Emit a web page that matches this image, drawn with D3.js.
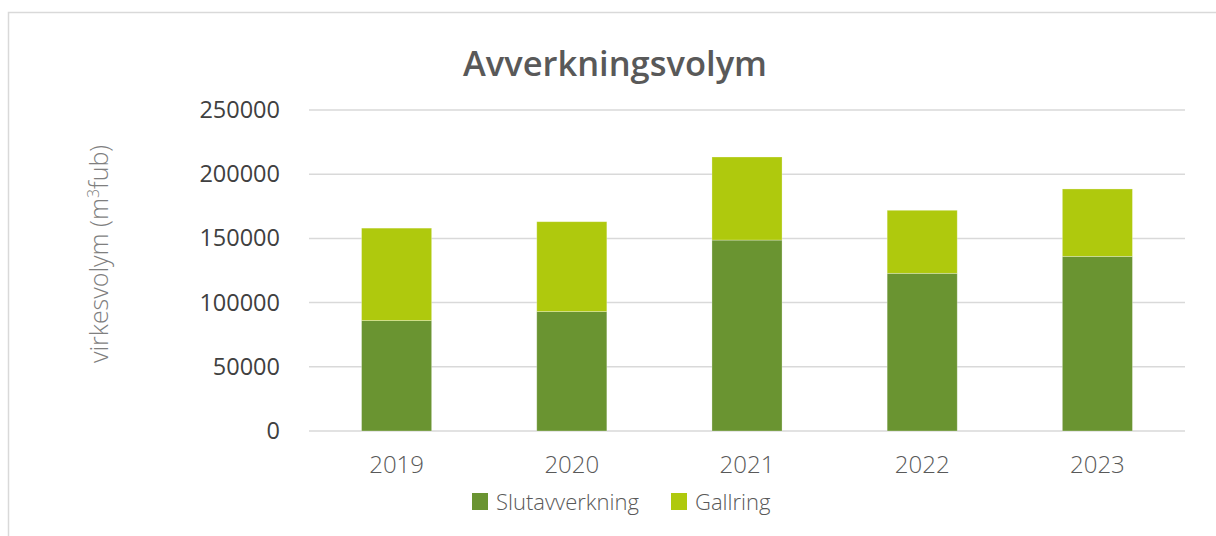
<!DOCTYPE html>
<html>
<head>
<meta charset="utf-8">
<script src="https://cdn.jsdelivr.net/npm/d3@7"></script>
<style>
  body { margin: 0; background: #fff; }
  svg text { font-family: "Open Sans", sans-serif; }
</style>
</head>
<body>
<div id="chart"></div>
<script>
const years = ["2019", "2020", "2021", "2022", "2023"];
const slutavverkning = [86000, 93000, 148700, 122800, 136000];
const gallring = [72000, 70000, 64700, 49100, 52500];
const seriesNames = ["Slutavverkning", "Gallring"];
const colors = ["#6a9431", "#afc90d"];
const yTicks = [0, 50000, 100000, 150000, 200000, 250000];

const W = 1216, H = 536;
const PLOT = { LEFT: 309, RIGHT: 1185, TOP: 110, BOTTOM: 431 };

const svg = d3.select("#chart")
  .append("svg")
  .attr("width", W)
  .attr("height", H);

// chart frame
svg.append("rect")
  .attr("x", 8.5)
  .attr("y", 12.5)
  .attr("width", 1230)
  .attr("height", 560)
  .attr("fill", "#fff")
  .attr("stroke", "#d9d9d9")
  .attr("stroke-width", 1.5);

const x = d3.scaleBand()
  .domain(years)
  .range([PLOT.LEFT, PLOT.RIGHT])
  .paddingInner(0.6)
  .paddingOuter(0.3);

const y = d3.scaleLinear()
  .domain([0, 250000])
  .range([PLOT.BOTTOM, PLOT.TOP]);

// gridlines
svg.append("g")
  .selectAll("line")
  .data(yTicks)
  .enter()
  .append("line")
  .attr("x1", PLOT.LEFT)
  .attr("x2", PLOT.RIGHT)
  .attr("y1", (d) => y(d))
  .attr("y2", (d) => y(d))
  .attr("stroke", "#d9d9d9")
  .attr("stroke-width", 1.5);

// y axis labels
const yAxis = svg.append("g")
  .attr("transform", `translate(${PLOT.LEFT}, 0)`)
  .call(d3.axisLeft(y).tickValues(yTicks).tickSize(0).tickPadding(29).tickFormat(d3.format("d")));
yAxis.select(".domain").remove();
yAxis.selectAll("text")
  .attr("fill", "#404040")
  .style("font-size", "23.5px");

// x axis labels
const xAxis = svg.append("g")
  .attr("transform", `translate(0, ${PLOT.BOTTOM})`)
  .call(d3.axisBottom(x).tickSize(0).tickPadding(25));
xAxis.select(".domain").remove();
xAxis.selectAll("text")
  .attr("fill", "#595959")
  .style("font-size", "24px")
  .style("font-weight", 300);

// stacked bars
const table = years.map((yr, i) => ({
  year: yr,
  Slutavverkning: slutavverkning[i],
  Gallring: gallring[i],
}));
const stacked = d3.stack().keys(seriesNames)(table);

svg.append("g")
  .selectAll("g")
  .data(stacked)
  .enter()
  .append("g")
  .attr("fill", (d, i) => colors[i])
  .selectAll("rect")
  .data((d) => d)
  .enter()
  .append("rect")
  .attr("x", (d) => x(d.data.year))
  .attr("width", x.bandwidth())
  .attr("y", (d) => y(d[1]))
  .attr("height", (d) => y(d[0]) - y(d[1]))
  .attr("stroke", "#ffffff")
  .attr("stroke-opacity", 0.35)
  .attr("stroke-width", 0.8);

// title
svg.append("text")
  .attr("x", 615)
  .attr("y", 76)
  .attr("text-anchor", "middle")
  .attr("fill", "#595959")
  .style("font-size", "34.5px")
  .style("font-weight", 600)
  .text("Avverkningsvolym");

// y axis title
const yTitle = svg.append("text")
  .attr("transform", "translate(108, 254) rotate(-90)")
  .attr("text-anchor", "middle")
  .attr("fill", "#7f7f7f")
  .style("font-size", "25px")
  .style("font-weight", 300);
yTitle.append("tspan").text("virkesvolym (m");
yTitle.append("tspan").attr("dy", -9).style("font-size", "16px").text("3");
yTitle.append("tspan").attr("dy", 9).text("fub)");

// legend
const legendX = [472, 671];
const legend = svg.append("g")
  .selectAll("g")
  .data(seriesNames)
  .enter()
  .append("g")
  .attr("transform", (d, i) => `translate(${legendX[i]}, 493)`);
legend.append("rect")
  .attr("width", 16)
  .attr("height", 17)
  .attr("fill", (d, i) => colors[i]);
legend.append("text")
  .attr("x", 24)
  .attr("y", 17)
  .attr("fill", "#595959")
  .style("font-size", "22px")
  .style("font-weight", 300)
  .text((d) => d);
</script>
</body>
</html>
